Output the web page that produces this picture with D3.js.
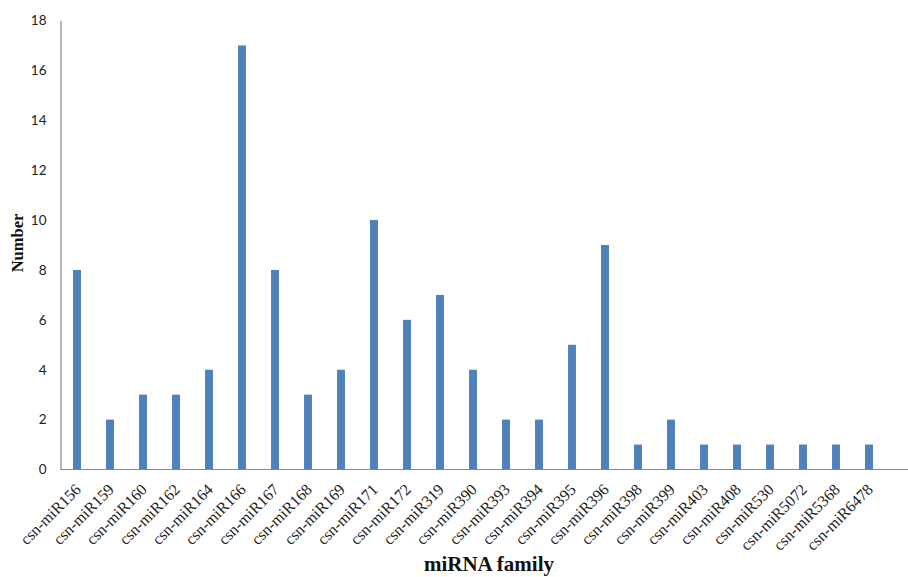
<!DOCTYPE html>
<html><head><meta charset="utf-8">
<script src="https://cdn.jsdelivr.net/npm/d3@7"></script>
<style>body{margin:0;background:#fff}svg{display:block}</style>
</head><body><svg id="c" width="908" height="577"></svg>
<script>
const categories = ["csn-miR156","csn-miR159","csn-miR160","csn-miR162","csn-miR164","csn-miR166","csn-miR167","csn-miR168","csn-miR169","csn-miR171","csn-miR172","csn-miR319","csn-miR390","csn-miR393","csn-miR394","csn-miR395","csn-miR396","csn-miR398","csn-miR399","csn-miR403","csn-miR408","csn-miR530","csn-miR5072","csn-miR5368","csn-miR6478"];
const values = [8,2,3,3,4,17,8,3,4,10,6,7,4,2,2,5,9,1,2,1,1,1,1,1,1];
const yTicks = [0,2,4,6,8,10,12,14,16,18];

const svg = d3.select("#c");
const mLeft = 60.5, mTop = 20.5, mBottom = 469.5;
const x = d3.scaleBand().domain(categories).range([mLeft, mLeft + 25*33]).paddingInner(0.76).paddingOuter(0.38);
const y = d3.scaleLinear().domain([0,18]).range([mBottom, mTop]);

// bars
svg.append("g").selectAll("rect").data(values).join("rect")
  .attr("x", (d,i) => x(categories[i]))
  .attr("y", d => y(d))
  .attr("width", x.bandwidth())
  .attr("height", d => y(0) - y(d))
  .attr("fill", "#4F81BD");

// y axis
const ya = svg.append("g").attr("transform", `translate(${mLeft},0)`)
  .call(d3.axisLeft(y).tickValues(yTicks).tickSize(0).tickPadding(14));
ya.select(".domain").attr("stroke", "#868686").attr("stroke-width", 1.2);
ya.selectAll("text").attr("font-family", "Lato, 'Open Sans', sans-serif").attr("font-size", 13.5).attr("fill", "#222");

// x axis
const xa = svg.append("g").attr("transform", `translate(0,${mBottom})`)
  .call(d3.axisBottom(x).tickSize(0).tickPadding(0));
xa.select(".domain").remove();
svg.append("line").attr("x1", mLeft).attr("x2", 908).attr("y1", mBottom).attr("y2", mBottom)
  .attr("stroke", "#868686").attr("stroke-width", 1.2);
xa.selectAll("text")
  .attr("font-family", "'Liberation Serif', 'Times New Roman', serif")
  .attr("font-size", 16).attr("fill", "#222")
  .attr("text-anchor", "end")
  .attr("dy", "0")
  .attr("transform", "translate(5,21) rotate(-45)");

// titles
svg.append("text").attr("x", 489).attr("y", 571).attr("text-anchor", "middle")
  .attr("font-family", "'Liberation Serif', 'Times New Roman', serif").attr("font-weight", "bold")
  .attr("font-size", 21).attr("fill", "#111").text("miRNA family");
svg.append("text").attr("transform", "translate(23,243) rotate(-90)").attr("text-anchor", "middle")
  .attr("font-family", "'Liberation Serif', 'Times New Roman', serif").attr("font-weight", "bold")
  .attr("font-size", 16.5).attr("fill", "#111").text("Number");
</script></body></html>
